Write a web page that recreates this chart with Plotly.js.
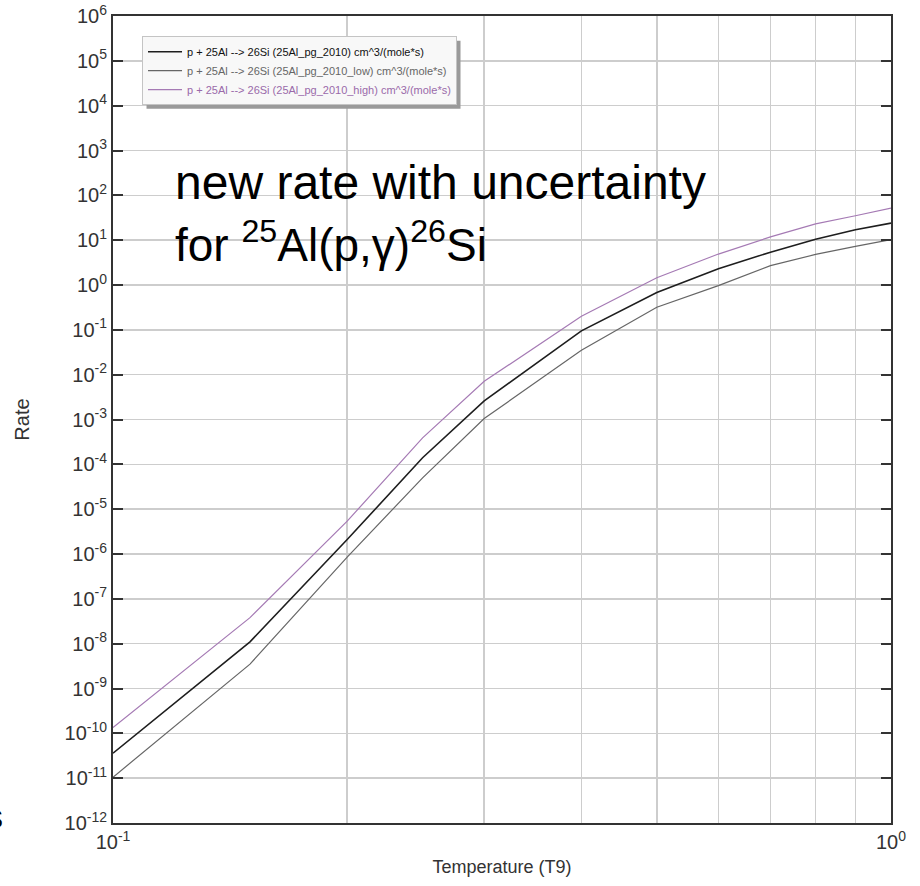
<!DOCTYPE html>
<html>
<head>
<meta charset="utf-8">
<script src="https://cdn.plot.ly/plotly-3.0.1.min.js"></script>
<style>
  html, body { margin: 0; padding: 0; background: #fff; }
  #chart { width: 920px; height: 886px; }
</style>
</head>
<body>
<div id="chart"></div>
<script>
// Temperature grid (T9)
const temperatureT9 = [0.1, 0.15, 0.2, 0.25, 0.3, 0.4, 0.5, 0.6, 0.7, 0.8, 0.9, 1.0];
// Rates, cm^3/(mole*s)
const rateRecommended = [3.6e-11, 1.1e-8, 2.1e-6, 1.4e-4, 2.6e-3, 0.095, 0.68, 2.3, 5.4, 10.5, 17, 24];
const rateLow         = [1.05e-11, 3.5e-9, 8.5e-7, 5.0e-5, 1.05e-3, 0.035, 0.32, 0.97, 2.7, 4.8, 7.3, 10.3];
const rateHigh        = [1.35e-10, 3.8e-8, 5.4e-6, 3.9e-4, 7.1e-3, 0.2, 1.45, 4.9, 11.8, 23, 35, 52];

const seriesNames = [
  'p + 25Al --> 26Si (25Al_pg_2010) cm^3/(mole*s)',
  'p + 25Al --> 26Si (25Al_pg_2010_low) cm^3/(mole*s)',
  'p + 25Al --> 26Si (25Al_pg_2010_high) cm^3/(mole*s)'
];

const yTickVals = [1e-12, 1e-11, 1e-10, 1e-9, 1e-8, 1e-7, 1e-6, 1e-5, 1e-4, 1e-3, 1e-2, 1e-1, 1e0, 1e1, 1e2, 1e3, 1e4, 1e5, 1e6];
const yTickText = ['10<sup>-12</sup>', '10<sup>-11</sup>', '10<sup>-10</sup>', '10<sup>-9</sup>', '10<sup>-8</sup>',
  '10<sup>-7</sup>', '10<sup>-6</sup>', '10<sup>-5</sup>', '10<sup>-4</sup>', '10<sup>-3</sup>', '10<sup>-2</sup>',
  '10<sup>-1</sup>', '10<sup>0</sup>', '10<sup>1</sup>', '10<sup>2</sup>', '10<sup>3</sup>', '10<sup>4</sup>',
  '10<sup>5</sup>', '10<sup>6</sup>'];
const xTickVals = [0.1, 0.2, 0.3, 0.4, 0.5, 0.6, 0.7, 0.8, 0.9, 1.0];
const xTickText = ['10<sup>-1</sup>', '', '', '', '', '', '', '', '', '10<sup>0</sup>'];

const FONT = 'Liberation Sans, Arial, Helvetica, sans-serif';

const traces = [
  {
    x: temperatureT9, y: rateRecommended, type: 'scatter', mode: 'lines',
    name: '<span style="color:#111">' + seriesNames[0] + '</span>',
    line: { color: '#1e1e1e', width: 1.6 }
  },
  {
    x: temperatureT9, y: rateLow, type: 'scatter', mode: 'lines',
    name: '<span style="color:#666">' + seriesNames[1] + '</span>',
    line: { color: '#666666', width: 1.2 }
  },
  {
    x: temperatureT9, y: rateHigh, type: 'scatter', mode: 'lines',
    name: '<span style="color:#9a6aaa">' + seriesNames[2] + '</span>',
    line: { color: '#a57ab4', width: 1.2 }
  }
];

const layout = {
  width: 920, height: 886,
  margin: { l: 113, r: 29, t: 16, b: 63 },
  paper_bgcolor: '#ffffff', plot_bgcolor: '#ffffff',
  font: { family: FONT, color: '#333' },
  showlegend: true,
  legend: {
    x: 0.0373, y: 0.975, xanchor: 'left', yanchor: 'top',
    bgcolor: '#f8f8f8', bordercolor: '#c4c4c4', borderwidth: 1,
    font: { family: FONT, size: 11, color: '#111' },
    itemwidth: 34, tracegroupgap: 0,
    entrywidth: 326, entrywidthmode: 'pixels'
  },
  xaxis: {
    type: 'log', range: [-1, 0],
    tickvals: xTickVals, ticktext: xTickText,
    ticks: '', showline: true, linecolor: '#333', linewidth: 2, mirror: true,
    showgrid: true, gridcolor: '#cdcdcd', gridwidth: 1.5,
    zeroline: false,
    tickfont: { family: FONT, size: 20, color: '#333' },
    title: { text: 'Temperature (T9)', font: { family: FONT, size: 18, color: '#333' }, standoff: 8 }
  },
  yaxis: {
    type: 'log', range: [-12, 6],
    tickvals: yTickVals, ticktext: yTickText,
    ticks: 'inside', ticklen: 10, tickwidth: 2, tickcolor: '#333',
    showline: true, linecolor: '#333', linewidth: 2, mirror: 'ticks',
    showgrid: true, gridcolor: '#cdcdcd', gridwidth: 1.5,
    zeroline: false,
    tickfont: { family: FONT, size: 20, color: '#333' },
    title: { text: 'Rate', font: { family: FONT, size: 20, color: '#333' }, standoff: 30 }
  },
  annotations: [
    {
      xref: 'paper', yref: 'paper', x: (173 - 113) / 778, y: 1 - (182 - 16) / 807,
      xanchor: 'left', yanchor: 'middle', showarrow: false,
      text: 'new rate with uncertainty',
      font: { family: FONT, size: 48, color: '#000' }
    },
    {
      xref: 'paper', yref: 'paper', x: (173 - 113) / 778, y: 1 - (242 - 16) / 807,
      xanchor: 'left', yanchor: 'middle', showarrow: false,
      text: 'for <sup>25</sup>Al(p,γ)<sup>26</sup>Si',
      font: { family: FONT, size: 46, color: '#000' }
    },
    {
      xref: 'paper', yref: 'paper', x: (5 - 113) / 778, y: 1 - (816 - 16) / 807,
      xanchor: 'right', yanchor: 'middle', showarrow: false,
      text: 's', font: { family: FONT, size: 34, color: '#000' }
    }
  ]
};

Plotly.newPlot('chart', traces, layout, { displayModeBar: false, staticPlot: true }).then(function (gd) {
  // legend drop shadow
  const bg = gd.querySelector('.legend .bg');
  if (bg) {
    const r = bg.getBoundingClientRect();
    const c = gd.getBoundingClientRect();
    const x0 = r.left - c.left + 4, x1 = r.right - c.left + 4;
    const y0 = r.top - c.top + 4, y1 = r.bottom - c.top + 4;
    const toPx = (px) => (px - 113) / 778, toPy = (py) => 1 - (py - 16) / 807;
    Plotly.relayout(gd, {
      shapes: [{
        type: 'rect', xref: 'paper', yref: 'paper', layer: 'above',
        x0: toPx(x0), x1: toPx(x1), y0: toPy(y0), y1: toPy(y1),
        fillcolor: '#9a9a9a', line: { width: 0 }
      }]
    });
  }
});
</script>
</body>
</html>
